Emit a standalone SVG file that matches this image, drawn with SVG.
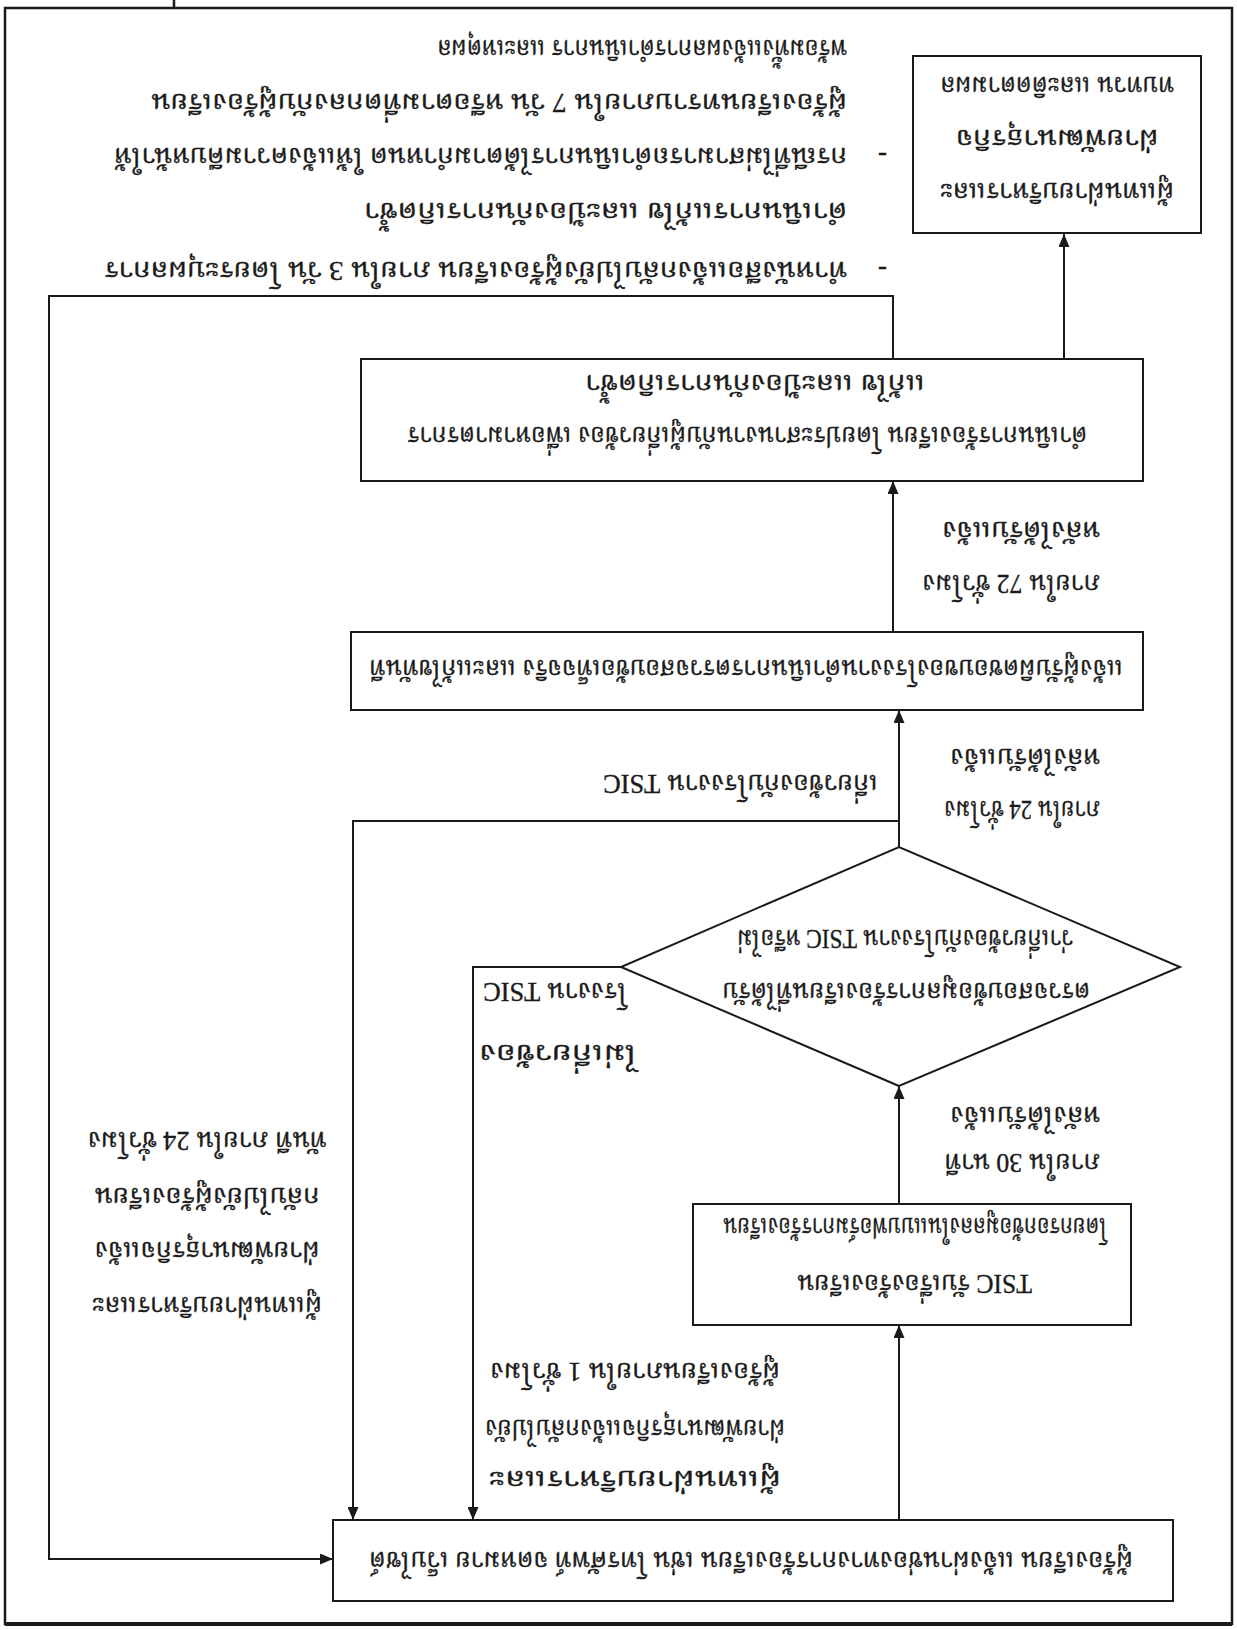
<svg xmlns="http://www.w3.org/2000/svg" width="1237" height="1630" viewBox="0 0 1237 1630">
<style>
text{font-family:"Liberation Serif","Noto Serif Thai","Noto Sans Thai","Garuda",serif;font-size:27px;fill:#1a1a1a;stroke:#1a1a1a;stroke-width:0.35}
.box{fill:#fff;stroke:#1a1a1a;stroke-width:2}
.ln{fill:none;stroke:#1a1a1a;stroke-width:2}
.c{text-anchor:middle}
</style>
<defs>
<marker id="ah" markerWidth="13" markerHeight="11" refX="13" refY="5.5" orient="auto" markerUnits="userSpaceOnUse"><path d="M0,0 L13,5.5 L0,11 z" fill="#1a1a1a"/></marker>
</defs>
<rect width="1237" height="1630" fill="#fff"/>
<g transform="rotate(180 618.5 815)">
<g id="frame">
<rect x="5" y="6" width="1227" height="1616" fill="none" stroke="#1a1a1a" stroke-width="2.5"/>
<line x1="5" y1="6" x2="1232" y2="6" stroke="#1a1a1a" stroke-width="4"/>
<line x1="1063" y1="1622" x2="1063" y2="1630" stroke="#1a1a1a" stroke-width="2.5"/>
</g>
<g id="connectors">
<path class="ln" d="M338,110 V305" marker-end="url(#ah)"/>
<path class="ln" d="M338,426 V544" marker-end="url(#ah)"/>
<path class="ln" d="M338,783 V920" marker-end="url(#ah)"/>
<path class="ln" d="M344,998 V1149" marker-end="url(#ah)"/>
<path class="ln" d="M173,1271 V1396" marker-end="url(#ah)"/>
<path class="ln" d="M344,1271 V1334 H1188 V71 H904" marker-end="url(#ah)"/>
<path class="ln" d="M616,663 H764 V110" marker-end="url(#ah)"/>
<path class="ln" d="M338,809 H884 V110" marker-end="url(#ah)"/>
</g>
<g id="boxA">
<rect class="box" x="64" y="29" width="840" height="81"/>
<text x="104" y="78" textLength="764" lengthAdjust="spacingAndGlyphs">ผู้ร้องเรียน แจ้งผ่านช่องทางการร้องเรียน เช่น โทรศัพท์ จดหมาย เว็บไซต์</text>
</g>
<g id="boxB">
<rect class="box" x="106" y="305" width="438" height="121"/>
<text x="205" y="355" textLength="235" lengthAdjust="spacingAndGlyphs">TSIC รับเรื่องร้องเรียน</text>
<text x="130" y="412" textLength="384" lengthAdjust="spacingAndGlyphs">โดยกรอกข้อมูลลงในแบบฟอร์มการร้องเรียน</text>
</g>
<g id="lbl30">
<text x="137" y="476" textLength="156" lengthAdjust="spacingAndGlyphs">ภายใน 30 นาที</text>
<text x="137" y="523" textLength="150" lengthAdjust="spacingAndGlyphs">หลังได้รับแจ้ง</text>
</g>
<g id="diamond">
<polygon class="box" points="338,544 616,663 338,783 57,663"/>
<text x="147" y="647" textLength="368" lengthAdjust="spacingAndGlyphs">ตรวจสอบข้อมูลการร้องเรียนที่ได้รับ</text>
<text x="164" y="700" textLength="336" lengthAdjust="spacingAndGlyphs">ว่าเกี่ยวข้องกับโรงงาน TSIC หรือไม่</text>
</g>
<g id="lblNo">
<text x="600" y="585" textLength="158" lengthAdjust="spacingAndGlyphs">ไม่เกี่ยวข้อง</text>
<text x="610" y="647" textLength="144" lengthAdjust="spacingAndGlyphs">โรงงาน TSIC</text>
</g>
<g id="lblNoteA">
<text x="456" y="159" textLength="292" lengthAdjust="spacingAndGlyphs">ผู้แทนฝ่ายบริหารและ</text>
<text x="452" y="210" textLength="300" lengthAdjust="spacingAndGlyphs">ฝ่ายพัฒนาธุรกิจแจ้งกลับไปยัง</text>
<text x="457" y="267" textLength="290" lengthAdjust="spacingAndGlyphs">ผู้ร้องเรียนภายใน 1 ชั่วโมง</text>
</g>
<g id="lbl24">
<text x="137" y="829" textLength="156" lengthAdjust="spacingAndGlyphs">ภายใน 24 ชั่วโมง</text>
<text x="137" y="881" textLength="150" lengthAdjust="spacingAndGlyphs">หลังได้รับแจ้ง</text>
</g>
<g id="lblYes">
<text x="359" y="855" textLength="275" lengthAdjust="spacingAndGlyphs">เกี่ยวข้องกับโรงงาน TSIC</text>
</g>
<g id="boxC">
<rect class="box" x="94" y="920" width="792" height="78"/>
<text x="114" y="970" textLength="754" lengthAdjust="spacingAndGlyphs">แจ้งผู้รับผิดชอบของโรงงานดำเนินการตรวจสอบข้อเท็จจริง และแก้ไขทันที</text>
</g>
<g id="lbl72">
<text x="137" y="1055" textLength="178" lengthAdjust="spacingAndGlyphs">ภายใน 72 ชั่วโมง</text>
<text x="137" y="1108" textLength="158" lengthAdjust="spacingAndGlyphs">หลังได้รับแจ้ง</text>
</g>
<g id="boxD">
<rect class="box" x="94" y="1149" width="782" height="122"/>
<text x="150" y="1203" textLength="680" lengthAdjust="spacingAndGlyphs">ดำเนินการร้องเรียน โดยประสานงานกับผู้เกี่ยวข้อง เพื่อหามาตรการ</text>
<text x="312" y="1255" textLength="340" lengthAdjust="spacingAndGlyphs">แก้ไข และป้องกันการเกิดซ้ำ</text>
</g>
<g id="lblLoop">
<text class="c" x="1030" y="333" textLength="230" lengthAdjust="spacingAndGlyphs">ผู้แทนฝ่ายบริหารและ</text>
<text class="c" x="1030" y="388" textLength="225" lengthAdjust="spacingAndGlyphs">ฝ่ายพัฒนาธุรกิจแจ้ง</text>
<text class="c" x="1030" y="442" textLength="225" lengthAdjust="spacingAndGlyphs">กลับไปยังผู้ร้องเรียน</text>
<text class="c" x="1030" y="498" textLength="239" lengthAdjust="spacingAndGlyphs">ทันที ภายใน 24 ชั่วโมง</text>
</g>
<g id="boxE">
<rect class="box" x="36" y="1397" width="288" height="177"/>
<text class="c" x="180" y="1447" textLength="234" lengthAdjust="spacingAndGlyphs">ผู้แทนฝ่ายบริหารและ</text>
<text class="c" x="180" y="1500" textLength="203" lengthAdjust="spacingAndGlyphs">ฝ่ายพัฒนาธุรกิจ</text>
<text class="c" x="180" y="1553" textLength="234" lengthAdjust="spacingAndGlyphs">ทบทวน และติดตามผล</text>
</g>
<g id="notes">
<text x="350" y="1368">-</text>
<text x="390" y="1368" textLength="743" lengthAdjust="spacingAndGlyphs">ทำหนังสือแจ้งกลับไปยังผู้ร้องเรียน ภายใน 3 วัน โดยระบุผลการ</text>
<text x="390" y="1427" textLength="483" lengthAdjust="spacingAndGlyphs">ดำเนินการแก้ไข และป้องกันการเกิดซ้ำ</text>
<text x="350" y="1482">-</text>
<text x="390" y="1482" textLength="733" lengthAdjust="spacingAndGlyphs">กรณีที่ไม่สามารถดำเนินการได้ตามกำหนด ให้แจ้งความคืบหน้าให้</text>
<text x="390" y="1536" textLength="696" lengthAdjust="spacingAndGlyphs">ผู้ร้องเรียนทราบภายใน 7 วัน หรือตามที่ตกลงกับผู้ร้องเรียน</text>
<text x="390" y="1590" textLength="410" lengthAdjust="spacingAndGlyphs">พร้อมทั้งแจ้งผลการดำเนินการ และเหตุผล</text>
</g>
</g>
</svg>
